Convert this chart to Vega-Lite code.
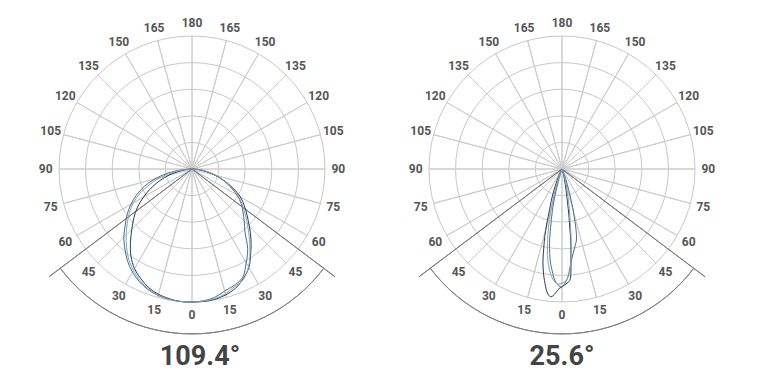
{
  "$schema": "https://vega.github.io/schema/vega-lite/v6.json",
  "padding": {"left": 7, "top": 0, "right": 0, "bottom": 0},
  "background": "white",
  "spacing": 0,
  "bounds": "flush",
  "config": {"view": {"stroke": null}},
  "datasets": {
    "one": [{"k": 1}],
    "spokes": [{"a": -165}, {"a": -150}, {"a": -135}, {"a": -120}, {"a": -105}, {"a": -90}, {"a": -75}, {"a": -60}, {"a": -45}, {"a": -30}, {"a": -15}, {"a": 0}, {"a": 15}, {"a": 30}, {"a": 45}, {"a": 60}, {"a": 75}, {"a": 90}, {"a": 105}, {"a": 120}, {"a": 135}, {"a": 150}, {"a": 165}, {"a": 180}],
    "labels": [{"a": -165, "t": "165"}, {"a": -150, "t": "150"}, {"a": -135, "t": "135"}, {"a": -120, "t": "120"}, {"a": -105, "t": "105"}, {"a": -90, "t": "90"}, {"a": -75, "t": "75"}, {"a": -60, "t": "60"}, {"a": -45, "t": "45"}, {"a": -30, "t": "30"}, {"a": -15, "t": "15"}, {"a": 0, "t": "0"}, {"a": 15, "t": "15"}, {"a": 30, "t": "30"}, {"a": 45, "t": "45"}, {"a": 60, "t": "60"}, {"a": 75, "t": "75"}, {"a": 90, "t": "90"}, {"a": 105, "t": "105"}, {"a": 120, "t": "120"}, {"a": 135, "t": "135"}, {"a": 150, "t": "150"}, {"a": 165, "t": "165"}, {"a": 180, "t": "180"}],
    "beam": [{"b": -53}, {"b": 53}]
  },
  "hconcat": [
    {
      "width": 370,
      "height": 384,
      "layer": [
        {"data": {"name": "one"}, "mark": {"type": "arc", "theta": 0, "theta2": 6.2832, "filled": false, "fill": null, "stroke": "#c8c8c8", "strokeWidth": 1},
         "encoding": {"x": {"datum": 0, "type": "quantitative", "scale": {"domain": [-1.391, 1.391], "nice": false, "zero": false}, "axis": null}, "y": {"datum": 0, "type": "quantitative", "scale": {"domain": [-1.6165, 1.2707], "nice": false, "zero": false}, "axis": null}, "radius": {"datum": 0.2, "type": "quantitative", "scale": {"type": "linear", "domain": [0, 1], "range": [0, 133], "zero": true, "nice": false}}}},
        {"data": {"name": "one"}, "mark": {"type": "arc", "theta": 0, "theta2": 6.2832, "filled": false, "fill": null, "stroke": "#c8c8c8", "strokeWidth": 1},
         "encoding": {"x": {"datum": 0, "type": "quantitative", "scale": {"domain": [-1.391, 1.391], "nice": false, "zero": false}, "axis": null}, "y": {"datum": 0, "type": "quantitative", "scale": {"domain": [-1.6165, 1.2707], "nice": false, "zero": false}, "axis": null}, "radius": {"datum": 0.4, "type": "quantitative", "scale": {"type": "linear", "domain": [0, 1], "range": [0, 133], "zero": true, "nice": false}}}},
        {"data": {"name": "one"}, "mark": {"type": "arc", "theta": 0, "theta2": 6.2832, "filled": false, "fill": null, "stroke": "#c8c8c8", "strokeWidth": 1},
         "encoding": {"x": {"datum": 0, "type": "quantitative", "scale": {"domain": [-1.391, 1.391], "nice": false, "zero": false}, "axis": null}, "y": {"datum": 0, "type": "quantitative", "scale": {"domain": [-1.6165, 1.2707], "nice": false, "zero": false}, "axis": null}, "radius": {"datum": 0.6, "type": "quantitative", "scale": {"type": "linear", "domain": [0, 1], "range": [0, 133], "zero": true, "nice": false}}}},
        {"data": {"name": "one"}, "mark": {"type": "arc", "theta": 0, "theta2": 6.2832, "filled": false, "fill": null, "stroke": "#c8c8c8", "strokeWidth": 1},
         "encoding": {"x": {"datum": 0, "type": "quantitative", "scale": {"domain": [-1.391, 1.391], "nice": false, "zero": false}, "axis": null}, "y": {"datum": 0, "type": "quantitative", "scale": {"domain": [-1.6165, 1.2707], "nice": false, "zero": false}, "axis": null}, "radius": {"datum": 0.8, "type": "quantitative", "scale": {"type": "linear", "domain": [0, 1], "range": [0, 133], "zero": true, "nice": false}}}},
        {"data": {"name": "one"}, "mark": {"type": "arc", "theta": 0, "theta2": 6.2832, "filled": false, "fill": null, "stroke": "#c8c8c8", "strokeWidth": 1},
         "encoding": {"x": {"datum": 0, "type": "quantitative", "scale": {"domain": [-1.391, 1.391], "nice": false, "zero": false}, "axis": null}, "y": {"datum": 0, "type": "quantitative", "scale": {"domain": [-1.6165, 1.2707], "nice": false, "zero": false}, "axis": null}, "radius": {"datum": 1.0, "type": "quantitative", "scale": {"type": "linear", "domain": [0, 1], "range": [0, 133], "zero": true, "nice": false}}}},
        {
          "data": {"name": "spokes"},
          "mark": {"type": "arc", "filled": false, "fill": null, "stroke": "#cccccc", "strokeWidth": 1},
          "encoding": {
            "x": {"datum": 0, "type": "quantitative", "scale": {"domain": [-1.391, 1.391], "nice": false, "zero": false}, "axis": null},
            "y": {"datum": 0, "type": "quantitative", "scale": {"domain": [-1.6165, 1.2707], "nice": false, "zero": false}, "axis": null},
            "theta": {"field": "a", "type": "quantitative", "stack": null, "scale": {"domain": [-180, 180], "range": [6.283185307, 0], "nice": false, "zero": false}},
            "theta2": {"field": "a"},
            "radius": {"datum": 1, "type": "quantitative", "scale": {"type": "linear", "domain": [0, 1], "range": [0, 133], "zero": true, "nice": false}},
            "radius2": {"datum": 0}
          }
        },
        {
          "data": {"name": "labels"},
          "mark": {"type": "text", "font": "Roboto", "fontSize": 12, "fontWeight": "bold", "fill": "#555555", "align": "center", "baseline": "middle"},
          "encoding": {
            "x": {"datum": 0, "type": "quantitative", "scale": {"domain": [-1.391, 1.391], "nice": false, "zero": false}, "axis": null},
            "y": {"datum": 0, "type": "quantitative", "scale": {"domain": [-1.6165, 1.2707], "nice": false, "zero": false}, "axis": null},
            "theta": {"field": "a", "type": "quantitative", "stack": null, "scale": {"domain": [-180, 180], "range": [6.283185307, 0], "nice": false, "zero": false}},
            "radius": {"datum": 1.1, "type": "quantitative", "scale": {"type": "linear", "domain": [0, 1], "range": [0, 133], "zero": true, "nice": false}},
            "text": {"field": "t"}
          }
        },
        {
          "data": {"name": "beam"},
          "mark": {"type": "arc", "filled": false, "fill": null, "stroke": "#7a7a7a", "strokeWidth": 1},
          "encoding": {
            "x": {"datum": 0, "type": "quantitative", "scale": {"domain": [-1.391, 1.391], "nice": false, "zero": false}, "axis": null},
            "y": {"datum": 0, "type": "quantitative", "scale": {"domain": [-1.6165, 1.2707], "nice": false, "zero": false}, "axis": null},
            "theta": {"field": "b", "type": "quantitative", "stack": null, "scale": {"domain": [-180, 180], "range": [6.283185307, 0], "nice": false, "zero": false}},
            "theta2": {"field": "b"},
            "radius": {"datum": 1.346, "type": "quantitative", "scale": {"type": "linear", "domain": [0, 1], "range": [0, 133], "zero": true, "nice": false}},
            "radius2": {"datum": 0}
          }
        },
        {
          "data": {"name": "one"},
          "mark": {"type": "arc", "filled": false, "fill": null, "stroke": "#808080", "strokeWidth": 1},
          "encoding": {
            "x": {"datum": 0, "type": "quantitative", "scale": {"domain": [-1.391, 1.391], "nice": false, "zero": false}, "axis": null},
            "y": {"datum": 0, "type": "quantitative", "scale": {"domain": [-1.6165, 1.2707], "nice": false, "zero": false}, "axis": null},
            "theta": {"datum": -53, "type": "quantitative", "stack": null, "scale": {"domain": [-180, 180], "range": [6.283185307, 0], "nice": false, "zero": false}},
            "theta2": {"datum": 53},
            "radius": {"datum": 1.24, "type": "quantitative", "scale": {"type": "linear", "domain": [0, 1], "range": [0, 133], "zero": true, "nice": false}},
            "radius2": {"datum": 1.24}
          }
        },
        {
          "data": {"values": [
            {"s": "dark", "a": -90, "r": 0}, {"s": "dark", "a": -85, "r": 0.04}, {"s": "dark", "a": -80, "r": 0.1}, {"s": "dark", "a": -75, "r": 0.18}, {"s": "dark", "a": -70, "r": 0.26}, {"s": "dark", "a": -65, "r": 0.34}, {"s": "dark", "a": -60, "r": 0.42}, {"s": "dark", "a": -55, "r": 0.5}, {"s": "dark", "a": -50, "r": 0.57}, {"s": "dark", "a": -45, "r": 0.64}, {"s": "dark", "a": -40, "r": 0.72}, {"s": "dark", "a": -35, "r": 0.8}, {"s": "dark", "a": -30, "r": 0.865}, {"s": "dark", "a": -25, "r": 0.91}, {"s": "dark", "a": -20, "r": 0.95}, {"s": "dark", "a": -15, "r": 0.975}, {"s": "dark", "a": -10, "r": 0.99}, {"s": "dark", "a": -5, "r": 1.0}, {"s": "dark", "a": 0, "r": 1.0}, {"s": "dark", "a": 5, "r": 1.0}, {"s": "dark", "a": 10, "r": 0.995}, {"s": "dark", "a": 15, "r": 0.98}, {"s": "dark", "a": 20, "r": 0.955}, {"s": "dark", "a": 25, "r": 0.91}, {"s": "dark", "a": 30, "r": 0.855}, {"s": "dark", "a": 35, "r": 0.77}, {"s": "dark", "a": 40, "r": 0.69}, {"s": "dark", "a": 45, "r": 0.61}, {"s": "dark", "a": 50, "r": 0.54}, {"s": "dark", "a": 55, "r": 0.48}, {"s": "dark", "a": 60, "r": 0.42}, {"s": "dark", "a": 65, "r": 0.34}, {"s": "dark", "a": 70, "r": 0.26}, {"s": "dark", "a": 75, "r": 0.18}, {"s": "dark", "a": 80, "r": 0.11}, {"s": "dark", "a": 85, "r": 0.05}, {"s": "dark", "a": 90, "r": 0},
            {"s": "mid", "a": -90, "r": 0}, {"s": "mid", "a": -85, "r": 0.08}, {"s": "mid", "a": -80, "r": 0.19}, {"s": "mid", "a": -75, "r": 0.29}, {"s": "mid", "a": -70, "r": 0.38}, {"s": "mid", "a": -65, "r": 0.46}, {"s": "mid", "a": -60, "r": 0.53}, {"s": "mid", "a": -55, "r": 0.595}, {"s": "mid", "a": -50, "r": 0.655}, {"s": "mid", "a": -45, "r": 0.725}, {"s": "mid", "a": -40, "r": 0.785}, {"s": "mid", "a": -35, "r": 0.845}, {"s": "mid", "a": -30, "r": 0.895}, {"s": "mid", "a": -25, "r": 0.935}, {"s": "mid", "a": -20, "r": 0.965}, {"s": "mid", "a": -15, "r": 0.985}, {"s": "mid", "a": -10, "r": 0.995}, {"s": "mid", "a": -5, "r": 1.0}, {"s": "mid", "a": 0, "r": 1.0}, {"s": "mid", "a": 5, "r": 0.995}, {"s": "mid", "a": 10, "r": 0.98}, {"s": "mid", "a": 15, "r": 0.95}, {"s": "mid", "a": 20, "r": 0.93}, {"s": "mid", "a": 25, "r": 0.9}, {"s": "mid", "a": 30, "r": 0.815}, {"s": "mid", "a": 35, "r": 0.73}, {"s": "mid", "a": 40, "r": 0.62}, {"s": "mid", "a": 45, "r": 0.555}, {"s": "mid", "a": 50, "r": 0.5}, {"s": "mid", "a": 55, "r": 0.45}, {"s": "mid", "a": 60, "r": 0.39}, {"s": "mid", "a": 65, "r": 0.32}, {"s": "mid", "a": 70, "r": 0.25}, {"s": "mid", "a": 75, "r": 0.18}, {"s": "mid", "a": 80, "r": 0.11}, {"s": "mid", "a": 85, "r": 0.05}, {"s": "mid", "a": 90, "r": 0},
            {"s": "light", "a": -90, "r": 0}, {"s": "light", "a": -85, "r": 0.06}, {"s": "light", "a": -80, "r": 0.15}, {"s": "light", "a": -75, "r": 0.25}, {"s": "light", "a": -70, "r": 0.34}, {"s": "light", "a": -65, "r": 0.43}, {"s": "light", "a": -60, "r": 0.51}, {"s": "light", "a": -55, "r": 0.575}, {"s": "light", "a": -50, "r": 0.635}, {"s": "light", "a": -45, "r": 0.7}, {"s": "light", "a": -40, "r": 0.765}, {"s": "light", "a": -35, "r": 0.83}, {"s": "light", "a": -30, "r": 0.88}, {"s": "light", "a": -25, "r": 0.925}, {"s": "light", "a": -20, "r": 0.96}, {"s": "light", "a": -15, "r": 0.982}, {"s": "light", "a": -10, "r": 0.995}, {"s": "light", "a": -5, "r": 1.0}, {"s": "light", "a": 0, "r": 1.0}, {"s": "light", "a": 5, "r": 0.997}, {"s": "light", "a": 10, "r": 0.99}, {"s": "light", "a": 15, "r": 0.97}, {"s": "light", "a": 20, "r": 0.94}, {"s": "light", "a": 25, "r": 0.915}, {"s": "light", "a": 30, "r": 0.85}, {"s": "light", "a": 35, "r": 0.76}, {"s": "light", "a": 40, "r": 0.67}, {"s": "light", "a": 45, "r": 0.59}, {"s": "light", "a": 50, "r": 0.52}, {"s": "light", "a": 55, "r": 0.46}, {"s": "light", "a": 60, "r": 0.4}, {"s": "light", "a": 65, "r": 0.33}, {"s": "light", "a": 70, "r": 0.26}, {"s": "light", "a": 75, "r": 0.19}, {"s": "light", "a": 80, "r": 0.12}, {"s": "light", "a": 85, "r": 0.06}, {"s": "light", "a": 90, "r": 0}
          ]},
          "transform": [
            {"calculate": "datum.r * sin(datum.a * PI / 180)", "as": "px"},
            {"calculate": "-datum.r * cos(datum.a * PI / 180)", "as": "py"}
          ],
          "mark": {"type": "line", "strokeWidth": 1, "interpolate": "catmull-rom"},
          "encoding": {
            "x": {"field": "px", "type": "quantitative", "scale": {"domain": [-1.391, 1.391], "nice": false, "zero": false}, "axis": null},
            "y": {"field": "py", "type": "quantitative", "scale": {"domain": [-1.6165, 1.2707], "nice": false, "zero": false}, "axis": null},
            "color": {"field": "s", "type": "nominal", "scale": {"domain": ["dark", "mid", "light"], "range": ["#2f3b4d", "#4b6d87", "#7ea5bb"]}, "legend": null},
            "order": {"field": "a", "type": "quantitative"}
          }
        },
        {
          "data": {"values": [{"t": "109.4°"}]},
          "mark": {"type": "text", "font": "Roboto", "fontSize": 27, "fontWeight": "bold", "fill": "#444444", "align": "center", "baseline": "alphabetic", "dx": 8},
          "encoding": {
            "x": {"datum": 0, "type": "quantitative", "scale": {"domain": [-1.391, 1.391], "nice": false, "zero": false}, "axis": null},
            "y": {"datum": -1.474, "type": "quantitative", "scale": {"domain": [-1.6165, 1.2707], "nice": false, "zero": false}, "axis": null},
            "text": {"field": "t"}
          }
        }
      ]
    },
    {
      "width": 370,
      "height": 384,
      "layer": [
        {"data": {"name": "one"}, "mark": {"type": "arc", "theta": 0, "theta2": 6.2832, "filled": false, "fill": null, "stroke": "#c8c8c8", "strokeWidth": 1},
         "encoding": {"x": {"datum": 0, "type": "quantitative", "scale": {"domain": [-1.391, 1.391], "nice": false, "zero": false}, "axis": null}, "y": {"datum": 0, "type": "quantitative", "scale": {"domain": [-1.6165, 1.2707], "nice": false, "zero": false}, "axis": null}, "radius": {"datum": 0.2, "type": "quantitative", "scale": {"type": "linear", "domain": [0, 1], "range": [0, 133], "zero": true, "nice": false}}}},
        {"data": {"name": "one"}, "mark": {"type": "arc", "theta": 0, "theta2": 6.2832, "filled": false, "fill": null, "stroke": "#c8c8c8", "strokeWidth": 1},
         "encoding": {"x": {"datum": 0, "type": "quantitative", "scale": {"domain": [-1.391, 1.391], "nice": false, "zero": false}, "axis": null}, "y": {"datum": 0, "type": "quantitative", "scale": {"domain": [-1.6165, 1.2707], "nice": false, "zero": false}, "axis": null}, "radius": {"datum": 0.4, "type": "quantitative", "scale": {"type": "linear", "domain": [0, 1], "range": [0, 133], "zero": true, "nice": false}}}},
        {"data": {"name": "one"}, "mark": {"type": "arc", "theta": 0, "theta2": 6.2832, "filled": false, "fill": null, "stroke": "#c8c8c8", "strokeWidth": 1},
         "encoding": {"x": {"datum": 0, "type": "quantitative", "scale": {"domain": [-1.391, 1.391], "nice": false, "zero": false}, "axis": null}, "y": {"datum": 0, "type": "quantitative", "scale": {"domain": [-1.6165, 1.2707], "nice": false, "zero": false}, "axis": null}, "radius": {"datum": 0.6, "type": "quantitative", "scale": {"type": "linear", "domain": [0, 1], "range": [0, 133], "zero": true, "nice": false}}}},
        {"data": {"name": "one"}, "mark": {"type": "arc", "theta": 0, "theta2": 6.2832, "filled": false, "fill": null, "stroke": "#c8c8c8", "strokeWidth": 1},
         "encoding": {"x": {"datum": 0, "type": "quantitative", "scale": {"domain": [-1.391, 1.391], "nice": false, "zero": false}, "axis": null}, "y": {"datum": 0, "type": "quantitative", "scale": {"domain": [-1.6165, 1.2707], "nice": false, "zero": false}, "axis": null}, "radius": {"datum": 0.8, "type": "quantitative", "scale": {"type": "linear", "domain": [0, 1], "range": [0, 133], "zero": true, "nice": false}}}},
        {"data": {"name": "one"}, "mark": {"type": "arc", "theta": 0, "theta2": 6.2832, "filled": false, "fill": null, "stroke": "#c8c8c8", "strokeWidth": 1},
         "encoding": {"x": {"datum": 0, "type": "quantitative", "scale": {"domain": [-1.391, 1.391], "nice": false, "zero": false}, "axis": null}, "y": {"datum": 0, "type": "quantitative", "scale": {"domain": [-1.6165, 1.2707], "nice": false, "zero": false}, "axis": null}, "radius": {"datum": 1.0, "type": "quantitative", "scale": {"type": "linear", "domain": [0, 1], "range": [0, 133], "zero": true, "nice": false}}}},
        {
          "data": {"name": "spokes"},
          "mark": {"type": "arc", "filled": false, "fill": null, "stroke": "#cccccc", "strokeWidth": 1},
          "encoding": {
            "x": {"datum": 0, "type": "quantitative", "scale": {"domain": [-1.391, 1.391], "nice": false, "zero": false}, "axis": null},
            "y": {"datum": 0, "type": "quantitative", "scale": {"domain": [-1.6165, 1.2707], "nice": false, "zero": false}, "axis": null},
            "theta": {"field": "a", "type": "quantitative", "stack": null, "scale": {"domain": [-180, 180], "range": [6.283185307, 0], "nice": false, "zero": false}},
            "theta2": {"field": "a"},
            "radius": {"datum": 1, "type": "quantitative", "scale": {"type": "linear", "domain": [0, 1], "range": [0, 133], "zero": true, "nice": false}},
            "radius2": {"datum": 0}
          }
        },
        {
          "data": {"name": "labels"},
          "mark": {"type": "text", "font": "Roboto", "fontSize": 12, "fontWeight": "bold", "fill": "#555555", "align": "center", "baseline": "middle"},
          "encoding": {
            "x": {"datum": 0, "type": "quantitative", "scale": {"domain": [-1.391, 1.391], "nice": false, "zero": false}, "axis": null},
            "y": {"datum": 0, "type": "quantitative", "scale": {"domain": [-1.6165, 1.2707], "nice": false, "zero": false}, "axis": null},
            "theta": {"field": "a", "type": "quantitative", "stack": null, "scale": {"domain": [-180, 180], "range": [6.283185307, 0], "nice": false, "zero": false}},
            "radius": {"datum": 1.1, "type": "quantitative", "scale": {"type": "linear", "domain": [0, 1], "range": [0, 133], "zero": true, "nice": false}},
            "text": {"field": "t"}
          }
        },
        {
          "data": {"name": "beam"},
          "mark": {"type": "arc", "filled": false, "fill": null, "stroke": "#7a7a7a", "strokeWidth": 1},
          "encoding": {
            "x": {"datum": 0, "type": "quantitative", "scale": {"domain": [-1.391, 1.391], "nice": false, "zero": false}, "axis": null},
            "y": {"datum": 0, "type": "quantitative", "scale": {"domain": [-1.6165, 1.2707], "nice": false, "zero": false}, "axis": null},
            "theta": {"field": "b", "type": "quantitative", "stack": null, "scale": {"domain": [-180, 180], "range": [6.283185307, 0], "nice": false, "zero": false}},
            "theta2": {"field": "b"},
            "radius": {"datum": 1.346, "type": "quantitative", "scale": {"type": "linear", "domain": [0, 1], "range": [0, 133], "zero": true, "nice": false}},
            "radius2": {"datum": 0}
          }
        },
        {
          "data": {"name": "one"},
          "mark": {"type": "arc", "filled": false, "fill": null, "stroke": "#808080", "strokeWidth": 1},
          "encoding": {
            "x": {"datum": 0, "type": "quantitative", "scale": {"domain": [-1.391, 1.391], "nice": false, "zero": false}, "axis": null},
            "y": {"datum": 0, "type": "quantitative", "scale": {"domain": [-1.6165, 1.2707], "nice": false, "zero": false}, "axis": null},
            "theta": {"datum": -53, "type": "quantitative", "stack": null, "scale": {"domain": [-180, 180], "range": [6.283185307, 0], "nice": false, "zero": false}},
            "theta2": {"datum": 53},
            "radius": {"datum": 1.24, "type": "quantitative", "scale": {"type": "linear", "domain": [0, 1], "range": [0, 133], "zero": true, "nice": false}},
            "radius2": {"datum": 1.24}
          }
        },
        {
          "data": {"values": [
            {"s": "dark", "a": -30, "r": 0}, {"s": "dark", "a": -25, "r": 0.06}, {"s": "dark", "a": -22, "r": 0.13}, {"s": "dark", "a": -20, "r": 0.2}, {"s": "dark", "a": -18.5, "r": 0.26}, {"s": "dark", "a": -17, "r": 0.32}, {"s": "dark", "a": -15.5, "r": 0.43}, {"s": "dark", "a": -14.3, "r": 0.525}, {"s": "dark", "a": -13, "r": 0.61}, {"s": "dark", "a": -11.8, "r": 0.7}, {"s": "dark", "a": -10, "r": 0.8}, {"s": "dark", "a": -8, "r": 0.89}, {"s": "dark", "a": -7, "r": 0.93}, {"s": "dark", "a": -6, "r": 0.955}, {"s": "dark", "a": -5, "r": 0.965}, {"s": "dark", "a": -4, "r": 0.955}, {"s": "dark", "a": -3, "r": 0.935}, {"s": "dark", "a": -2, "r": 0.91}, {"s": "dark", "a": -1, "r": 0.895}, {"s": "dark", "a": 0, "r": 0.885}, {"s": "dark", "a": 2, "r": 0.865}, {"s": "dark", "a": 4, "r": 0.84}, {"s": "dark", "a": 5, "r": 0.77}, {"s": "dark", "a": 5.5, "r": 0.7}, {"s": "dark", "a": 6, "r": 0.64}, {"s": "dark", "a": 7, "r": 0.54}, {"s": "dark", "a": 7.6, "r": 0.44}, {"s": "dark", "a": 8.5, "r": 0.35}, {"s": "dark", "a": 9.5, "r": 0.25}, {"s": "dark", "a": 10.3, "r": 0.186}, {"s": "dark", "a": 12, "r": 0.12}, {"s": "dark", "a": 15, "r": 0.05}, {"s": "dark", "a": 20, "r": 0},
            {"s": "mid", "a": -25, "r": 0}, {"s": "mid", "a": -20, "r": 0.05}, {"s": "mid", "a": -17, "r": 0.12}, {"s": "mid", "a": -15, "r": 0.2}, {"s": "mid", "a": -13, "r": 0.32}, {"s": "mid", "a": -11, "r": 0.45}, {"s": "mid", "a": -9.5, "r": 0.57}, {"s": "mid", "a": -8.3, "r": 0.64}, {"s": "mid", "a": -7, "r": 0.71}, {"s": "mid", "a": -5, "r": 0.79}, {"s": "mid", "a": -3.8, "r": 0.836}, {"s": "mid", "a": -2, "r": 0.87}, {"s": "mid", "a": -1, "r": 0.885}, {"s": "mid", "a": 0, "r": 0.885}, {"s": "mid", "a": 1, "r": 0.87}, {"s": "mid", "a": 2, "r": 0.845}, {"s": "mid", "a": 3.2, "r": 0.81}, {"s": "mid", "a": 4.5, "r": 0.75}, {"s": "mid", "a": 5.9, "r": 0.69}, {"s": "mid", "a": 7.5, "r": 0.64}, {"s": "mid", "a": 9.5, "r": 0.59}, {"s": "mid", "a": 11.5, "r": 0.545}, {"s": "mid", "a": 13, "r": 0.47}, {"s": "mid", "a": 14, "r": 0.395}, {"s": "mid", "a": 15.5, "r": 0.3}, {"s": "mid", "a": 17, "r": 0.2}, {"s": "mid", "a": 19, "r": 0.12}, {"s": "mid", "a": 22, "r": 0.05}, {"s": "mid", "a": 26, "r": 0},
            {"s": "light", "a": -25, "r": 0}, {"s": "light", "a": -20, "r": 0.08}, {"s": "light", "a": -17, "r": 0.2}, {"s": "light", "a": -15, "r": 0.33}, {"s": "light", "a": -13, "r": 0.45}, {"s": "light", "a": -11, "r": 0.57}, {"s": "light", "a": -9.5, "r": 0.66}, {"s": "light", "a": -8, "r": 0.73}, {"s": "light", "a": -6, "r": 0.8}, {"s": "light", "a": -4, "r": 0.845}, {"s": "light", "a": -2, "r": 0.865}, {"s": "light", "a": 0, "r": 0.86}, {"s": "light", "a": 2, "r": 0.84}, {"s": "light", "a": 3, "r": 0.82}, {"s": "light", "a": 4, "r": 0.78}, {"s": "light", "a": 5, "r": 0.73}, {"s": "light", "a": 6, "r": 0.66}, {"s": "light", "a": 7, "r": 0.57}, {"s": "light", "a": 8, "r": 0.48}, {"s": "light", "a": 9, "r": 0.39}, {"s": "light", "a": 10.5, "r": 0.3}, {"s": "light", "a": 12, "r": 0.22}, {"s": "light", "a": 14, "r": 0.14}, {"s": "light", "a": 17, "r": 0.07}, {"s": "light", "a": 22, "r": 0}
          ]},
          "transform": [
            {"calculate": "datum.r * sin(datum.a * PI / 180)", "as": "px"},
            {"calculate": "-datum.r * cos(datum.a * PI / 180)", "as": "py"}
          ],
          "mark": {"type": "line", "strokeWidth": 1, "interpolate": "catmull-rom"},
          "encoding": {
            "x": {"field": "px", "type": "quantitative", "scale": {"domain": [-1.391, 1.391], "nice": false, "zero": false}, "axis": null},
            "y": {"field": "py", "type": "quantitative", "scale": {"domain": [-1.6165, 1.2707], "nice": false, "zero": false}, "axis": null},
            "color": {"field": "s", "type": "nominal", "scale": {"domain": ["dark", "mid", "light"], "range": ["#2f3b4d", "#4b6d87", "#7ea5bb"]}, "legend": null},
            "order": {"field": "a", "type": "quantitative"}
          }
        },
        {
          "data": {"values": [{"t": "25.6°"}]},
          "mark": {"type": "text", "font": "Roboto", "fontSize": 27, "fontWeight": "bold", "fill": "#444444", "align": "center", "baseline": "alphabetic"},
          "encoding": {
            "x": {"datum": 0, "type": "quantitative", "scale": {"domain": [-1.391, 1.391], "nice": false, "zero": false}, "axis": null},
            "y": {"datum": -1.474, "type": "quantitative", "scale": {"domain": [-1.6165, 1.2707], "nice": false, "zero": false}, "axis": null},
            "text": {"field": "t"}
          }
        }
      ]
    }
  ]
}
